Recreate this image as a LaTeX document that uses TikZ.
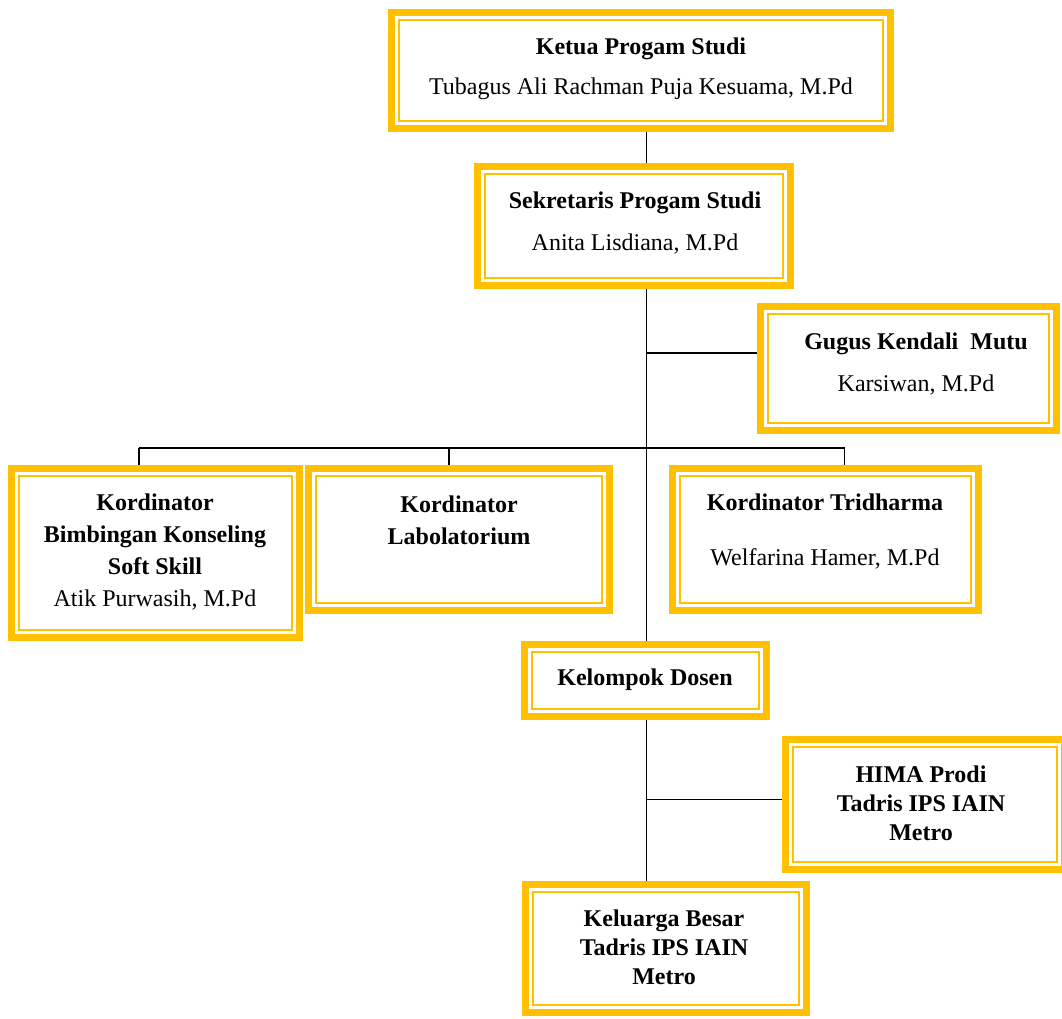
\documentclass[tikz,border=0pt]{standalone}
\usepackage{fontspec}
\setmainfont{Liberation Serif}
\definecolor{boxgold}{HTML}{FFC000}
\begin{document}
\begin{tikzpicture}[x=1pt,y=-1pt,
  boxnode/.style={rectangle,inner sep=0pt,minimum width=#1},
  txt/.style={align=center,inner sep=0pt,font=\fontsize{24}{29}\selectfont},
  conn/.style={draw=black,line width=1.3pt}]
\useasboundingbox (0,0) rectangle (1062,1018);
\clip (0,0) rectangle (1062,1018);
% boxes
\node[boxnode=506pt,minimum height=123pt] (ketua) at (641,70.5) {};
\node[boxnode=320pt,minimum height=126pt] (sek) at (634,226) {};
\node[boxnode=303pt,minimum height=131pt] (gugus) at (908.5,368.5) {};
\node[boxnode=295pt,minimum height=176pt] (bk) at (155.5,553) {};
\node[boxnode=308pt,minimum height=149pt] (lab) at (459,539.5) {};
\node[boxnode=313pt,minimum height=149pt] (tri) at (825.5,539.5) {};
\node[boxnode=249pt,minimum height=79pt] (kel) at (645.5,680.5) {};
\node[boxnode=286pt,minimum height=137pt] (hima) at (925,804.5) {};
\node[boxnode=288pt,minimum height=135pt] (kb) at (666,948.5) {};
\foreach \n in {ketua,sek,gugus,bk,lab,tri,kel,hima,kb}{
  \draw[boxgold,line width=7pt] ([shift={(3.5pt,3.5pt)}]\n.south west) rectangle ([shift={(-3.5pt,-3.5pt)}]\n.north east);
  \draw[boxgold,line width=2pt] ([shift={(11pt,11pt)}]\n.south west) rectangle ([shift={(-11pt,-11pt)}]\n.north east);
}
% texts
\node[txt] (ketua-t) at (641,69) {\textbf{Ketua Progam Studi}\\[11pt]Tubagus Ali Rachman Puja Kesuama, M.Pd};
\node[txt] (sek-t) at (635,223) {\textbf{Sekretaris Progam Studi}\\[13pt]Anita Lisdiana, M.Pd};
\node[txt] (gugus-t) at (916,364) {\textbf{Gugus Kendali~ Mutu}\\[13pt]Karsiwan, M.Pd};
\node[txt] (bk-t) at (155,552) {\textbf{Kordinator}\\[3pt]\textbf{Bimbingan Konseling}\\[3pt]\textbf{Soft Skill}\\[3pt]Atik Purwasih, M.Pd};
\node[txt] (lab-t) at (459,520) {\textbf{Kordinator}\\[3pt]\textbf{Labolatorium}};
\node[txt] (tri-t) at (825,531.5) {\textbf{Kordinator Tridharma}\\[26pt]Welfarina Hamer, M.Pd};
\node[txt] (kel-t) at (645,680) {\textbf{Kelompok Dosen}};
\node[txt] (hima-t) at (921,803) {\textbf{HIMA Prodi}\\\textbf{Tadris IPS IAIN}\\\textbf{Metro}};
\node[txt] (kb-t) at (664,947.5) {\textbf{Keluarga Besar}\\\textbf{Tadris IPS IAIN}\\\textbf{Metro}};
% connectors
\coordinate (spine) at (646.5,0);
\coordinate (j1) at (646.5,353);
\coordinate (bar) at (646.5,448);
\coordinate (d1) at (139,448);
\coordinate (d2) at (449,448);
\coordinate (d3) at (844.5,448);
\coordinate (j2) at (646.5,799.5);
\draw[conn] (spine |- ketua.south) -- (spine |- sek.north);
\draw[conn] (spine |- sek.south) -- (spine |- kel.north);
\draw[conn] (j1) -- (j1 -| gugus.west);
\draw[conn] (d1) -- (d3);
\draw[conn] (d1) -- (d1 |- bk.north);
\draw[conn] (d2) -- (d2 |- lab.north);
\draw[conn] (d3) -- (d3 |- tri.north);
\draw[conn] (spine |- kel.south) -- (spine |- kb.north);
\draw[conn] (j2) -- (j2 -| hima.west);
\end{tikzpicture}
\end{document}
